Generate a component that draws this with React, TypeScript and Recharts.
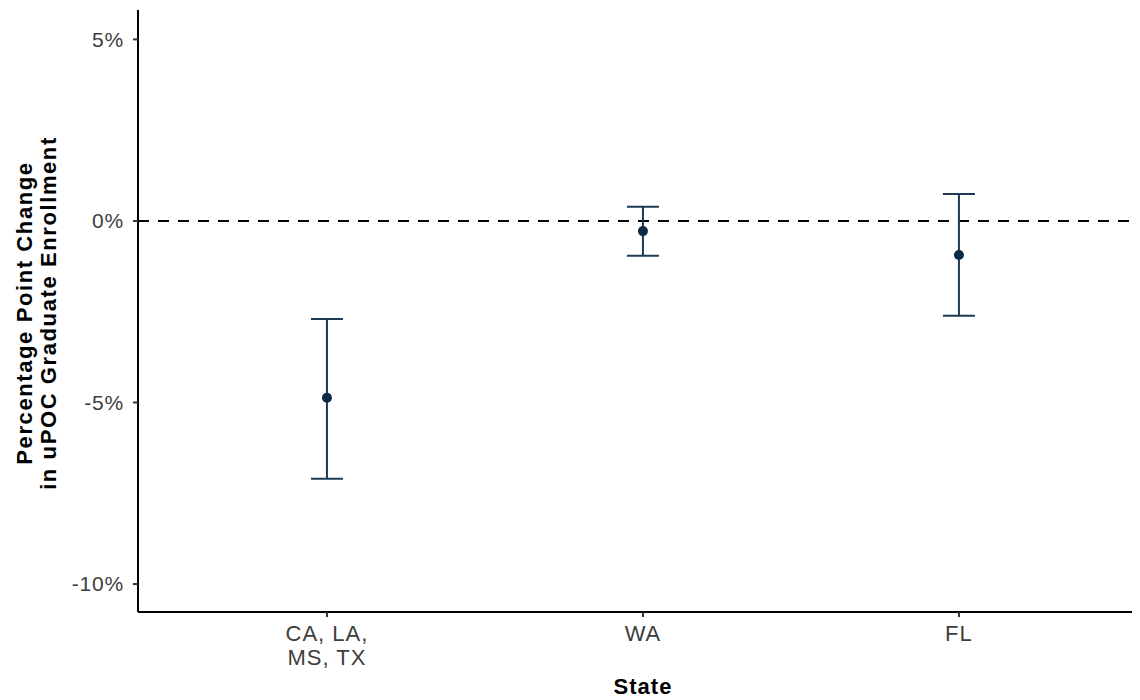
import React from "react";
import {
  ComposedChart,
  Scatter,
  ErrorBar,
  XAxis,
  YAxis,
  ReferenceLine,
} from "recharts";

const states = ["CA, LA,\nMS, TX", "WA", "FL"];
const estimates = [-4.87, -0.28, -0.94];
const ciLow = [-7.1, -0.96, -2.61];
const ciHigh = [-2.7, 0.39, 0.74];
const yTicks = [-10, -5, 0, 5];
const xTicks = [1, 2, 3];

const data = states.map((s, i) => ({
  x: i + 1,
  state: s,
  y: estimates[i],
  err: [estimates[i] - ciLow[i], ciHigh[i] - estimates[i]],
}));

const FONT = "'Liberation Sans', Arial, sans-serif";

const fmtPct = (v: number) => (v < 0 ? "-" + Math.abs(v) + "%" : v + "%");

const XTick = (props: any) => {
  const { x, y, payload } = props;
  const label = states[payload.value - 1] || "";
  const lines = label.split("\n");
  return (
    <text
      x={x}
      y={y}
      textAnchor="middle"
      fill="#3d3d3d"
      fontSize={22}
      fontFamily={FONT}
      letterSpacing={1}
    >
      {lines.map((l, i) => (
        <tspan key={i} x={x} dy={i === 0 ? "0.68em" : 24}>
          {l}
        </tspan>
      ))}
    </text>
  );
};

const Dot = (props: any) => {
  const { cx, cy } = props;
  return <circle cx={cx} cy={cy} r={5} fill="#0d2a45" />;
};

const YTitle = () => {
  const cy = 305;
  const x0 = 24;
  return (
    <text
      transform={`rotate(-90, ${x0}, ${cy})`}
      x={x0}
      y={cy}
      textAnchor="middle"
      fontSize={22}
      fontWeight="bold"
      fontFamily={FONT}
      letterSpacing={1.6}
      fill="#000"
    >
      <tspan x={x0} dy={0}>
        Percentage Point Change
      </tspan>
      <tspan x={x0} dy={24}>
        in uPOC Graduate Enrollment
      </tspan>
    </text>
  );
};

const XTitle = () => (
  <text
    x={635}
    y={686}
    textAnchor="middle"
    fontSize={22}
    fontWeight="bold"
    fontFamily={FONT}
    letterSpacing={1}
    fill="#000"
  >
    State
  </text>
);

export default function App() {
  return (
    <div style={{ width: 1132, height: 692, background: "#fff" }}>
      <ComposedChart
        width={1132}
        height={692}
        data={data}
        margin={{ top: 2, right: 0, left: 0, bottom: 0 }}
      >
        <XAxis
          dataKey="x"
          type="number"
          domain={[0.402, 3.573]}
          allowDataOverflow
          ticks={xTicks}
          interval={0}
          height={88}
          tick={<XTick />}
          tickSize={5}
          tickMargin={9}
          axisLine={{ stroke: "#000", strokeWidth: 2 }}
          tickLine={{ stroke: "#333", strokeWidth: 2 }}
          label={{ content: () => <XTitle /> }}
        />
        <YAxis
          type="number"
          domain={[-10.77, 5.81]}
          allowDataOverflow
          ticks={yTicks}
          interval={0}
          width={130}
          tickFormatter={fmtPct}
          tickSize={5}
          tickMargin={9}
          tick={{
            fill: "#3d3d3d",
            fontSize: 21,
            fontFamily: FONT,
            letterSpacing: 0.8,
          }}
          axisLine={{ stroke: "#000", strokeWidth: 2 }}
          tickLine={{ stroke: "#333", strokeWidth: 2 }}
          label={{ content: () => <YTitle /> }}
        />
        <ReferenceLine
          y={0}
          stroke="#000"
          strokeWidth={2}
          strokeDasharray="11 9"
        />
        <Scatter
          dataKey="y"
          isAnimationActive={false}
          shape={<Dot />}
        >
          <ErrorBar
            dataKey="err"
            direction="y"
            width={16}
            stroke="#1d3a55"
            strokeWidth={2}
            isAnimationActive={false}
          />
        </Scatter>
      </ComposedChart>
    </div>
  );
}
